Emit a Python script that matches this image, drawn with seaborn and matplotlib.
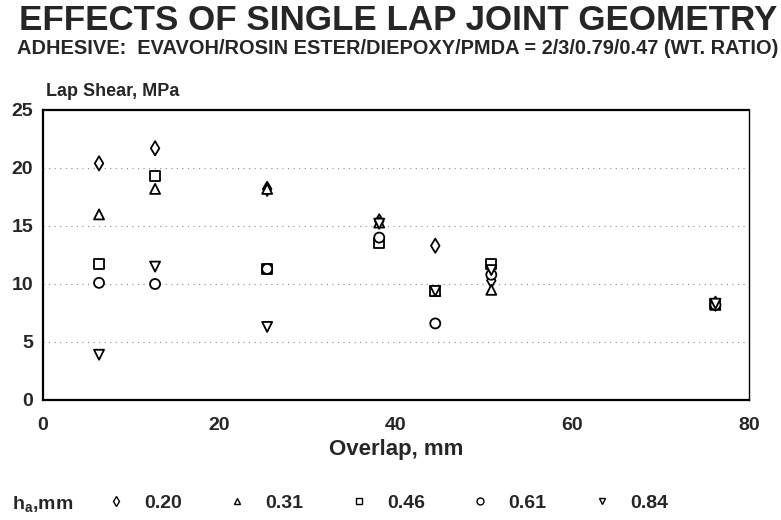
import numpy as np
import pandas as pd
import matplotlib
matplotlib.use('Agg')
import matplotlib.pyplot as plt
import seaborn as sns

# Overlap lengths (mm) tested for every adhesive thickness
overlap = [6.35, 12.7, 25.4, 38.1, 44.45, 50.8, 76.2]

# Lap shear strength (MPa) per adhesive thickness h_a
shear_020 = [20.4, 21.7, 18.2, 15.4, 13.3, 10.3, 8.3]
shear_031 = [16.0, 18.2, 18.2, 15.3, 9.4, 9.5, 8.2]
shear_046 = [11.7, 19.3, 11.3, 13.5, 9.4, 11.7, 8.3]
shear_061 = [10.1, 10.0, 11.3, 14.0, 6.6, 10.8, 8.2]
shear_084 = [3.9, 11.5, 6.3, 15.2, 9.4, 11.2, 8.3]

thickness_labels = ['0.20', '0.31', '0.46', '0.61', '0.84']
marker_map = {'0.20': 'd', '0.31': '^', '0.46': 's', '0.61': 'o', '0.84': 'v'}

series = [shear_020, shear_031, shear_046, shear_061, shear_084]
data = pd.DataFrame({
    'overlap': overlap * len(series),
    'shear': np.concatenate(series),
    'ha': np.repeat(thickness_labels, len(overlap)),
})

sns.set_style('white')
plt.rcParams['font.family'] = ['Liberation Sans', 'DejaVu Sans']
plt.rcParams['mathtext.fontset'] = 'custom'
plt.rcParams['mathtext.rm'] = 'Liberation Sans:bold'

fig = plt.figure(figsize=(7.81, 5.2), dpi=100)
ax = fig.add_axes([43 / 781, 1 - 400 / 520, 706 / 781, 290 / 520])

sns.scatterplot(data=data, x='overlap', y='shear', style='ha', markers=marker_map,
                style_order=thickness_labels, color='white', edgecolor='black',
                linewidth=1.3, s=52, ax=ax, legend=False, zorder=3)

ax.set_xlim(0, 80)
ax.set_ylim(0, 25)
ax.set_xticks([0, 20, 40, 60, 80])
ax.set_yticks([0, 5, 10, 15, 20, 25])
ax.tick_params(axis='x', direction='in', length=4, width=1, pad=12, labelsize=14)
ax.tick_params(axis='y', length=0, pad=7, labelsize=14)
for lab in ax.get_xticklabels() + ax.get_yticklabels():
    lab.set_fontweight('bold')
ax.yaxis.grid(True, linestyle=(0, (1, 4)), color='0.55', linewidth=0.8)
ax.xaxis.grid(False)
for side in ['left', 'bottom', 'top']:
    ax.spines[side].set_linewidth(1.6)
    ax.spines[side].set_color('black')
ax.spines['right'].set_linewidth(1.0)
ax.spines['right'].set_color('black')

ax.set_xlabel('Overlap, mm', fontsize=16, fontweight='bold', labelpad=4)
ax.set_ylabel('')

fig.text(46 / 781, 1 - 92 / 520, 'Lap Shear, MPa', fontsize=13, fontweight='bold',
         ha='left', va='center')

title = fig.text(398 / 781, 1 - 21 / 520, 'EFFECTS OF SINGLE LAP JOINT GEOMETRY',
                 fontsize=24, fontweight='bold', ha='center', va='center')
subtitle = fig.text(398 / 781, 1 - 48 / 520,
                    'ADHESIVE:  EVAVOH/ROSIN ESTER/DIEPOXY/PMDA = 2/3/0.79/0.47 (WT. RATIO)',
                    fontsize=11, fontweight='bold', ha='center', va='center')

# fit title widths to the reference
fig.canvas.draw()
for txt, target in [(title, 760), (subtitle, 758)]:
    w = txt.get_window_extent().width
    txt.set_fontsize(txt.get_fontsize() * target / w)

# legend row
fig.text(12 / 781, 1 - 505 / 520, r'h$_\mathregular{a}$,mm', fontsize=14,
         fontweight='bold', ha='left', va='center')
handles = [plt.Line2D([], [], linestyle='none', marker=marker_map[k], markersize=5,
                      markerfacecolor='white', markeredgecolor='black', markeredgewidth=1)
           for k in thickness_labels]
leg = fig.legend(handles, thickness_labels, ncol=5, frameon=False,
                 loc='center left', bbox_to_anchor=(108 / 781, 1 - 503 / 520),
                 handlelength=0.8, handletextpad=1.05, columnspacing=2.45,
                 prop={'size': 14, 'weight': 'bold'}, borderaxespad=0, borderpad=0)

fig.savefig('out.png', dpi=100)
